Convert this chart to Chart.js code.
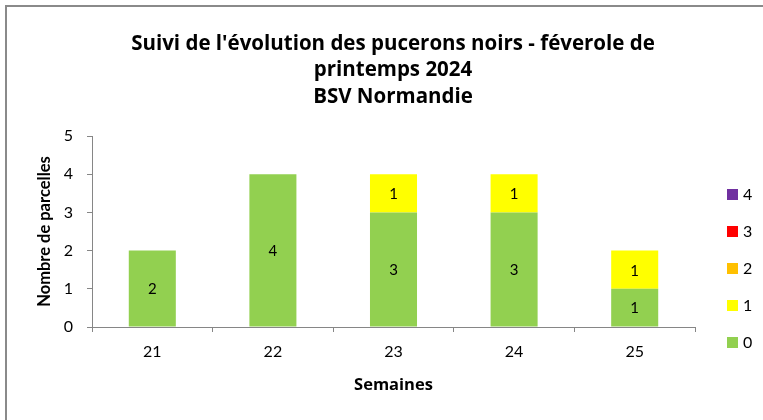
<!DOCTYPE html>
<html>
<head>
<meta charset="utf-8">
<script src="https://cdn.jsdelivr.net/npm/chart.js@4.4.1/dist/chart.umd.min.js"></script>
<style>
  html, body { margin: 0; padding: 0; background: #fff; }
  #wrap { width: 763px; height: 420px; }
</style>
</head>
<body>
<div id="wrap"><canvas id="pucChart" width="763" height="420"></canvas></div>
<script>
// semaines
const weeks = ['21', '22', '23', '24', '25'];

// classes de colonisation (nombre de parcelles par classe)
const classLabels = ['0', '1', '2', '3', '4'];
const class0 = [2, 4, 3, 3, 1];
const class1 = [0, 0, 1, 1, 1];
const class2 = [0, 0, 0, 0, 0];
const class3 = [0, 0, 0, 0, 0];
const class4 = [0, 0, 0, 0, 0];
const classColors = ['#92D050', '#FFFF00', '#FFC000', '#FF0000', '#7030A0'];

const titleLines = ["Suivi de l'évolution des pucerons noirs - féverole de", 'printemps 2024', 'BSV Normandie'];
const yTitle = 'Nombre de parcelles';
const xTitle = 'Semaines';

const FONT = 'Lato, "Noto Sans", sans-serif';
const WIDE = '"Open Sans", Lato, sans-serif';
const axisGrey = '#868686';

const series = [class0, class1, class2, class3, class4];
const datasets = series.map((vals, i) => ({
    label: classLabels[i],
    data: vals,
    backgroundColor: classColors[i],
    borderWidth: 0,
    barPercentage: 0.39,
    categoryPercentage: 1
}));

// cadre gris + fond blanc
const frame = {
    id: 'frame',
    beforeDraw(chart) {
        const ctx = chart.ctx;
        ctx.save();
        ctx.fillStyle = '#fff';
        ctx.fillRect(0, 0, chart.width, chart.height);
        ctx.strokeStyle = '#8a8a8a';
        ctx.lineWidth = 2;
        ctx.strokeRect(6, 6, chart.width + 10, chart.height + 10);
        ctx.restore();
    }
};

// titre sur trois lignes
const topTitle = {
    id: 'topTitle',
    afterDraw(chart) {
        const ctx = chart.ctx;
        ctx.save();
        ctx.font = 'bold 20.5px ' + WIDE;
        ctx.fillStyle = '#000';
        ctx.textAlign = 'center';
        ctx.textBaseline = 'middle';
        titleLines.forEach((t, i) => ctx.fillText(t, 393, 44 + i * 26.5));
        ctx.restore();
    }
};

// valeurs dans les barres
const barLabels = {
    id: 'barLabels',
    afterDatasetsDraw(chart) {
        const ctx = chart.ctx;
        ctx.save();
        ctx.font = '15px ' + FONT;
        ctx.fillStyle = '#000';
        ctx.textAlign = 'center';
        ctx.textBaseline = 'middle';
        chart.data.datasets.forEach((ds, i) => {
            chart.getDatasetMeta(i).data.forEach((bar, j) => {
                const v = ds.data[j];
                if (!v) return;
                const p = bar.getProps(['x', 'y', 'base'], true);
                ctx.fillText(String(v), p.x, (p.y + p.base) / 2 + 1);
            });
        });
        ctx.restore();
    }
};

// légende à droite, ordre inversé
const sideLegend = {
    id: 'sideLegend',
    afterDraw(chart) {
        const ctx = chart.ctx;
        ctx.save();
        ctx.font = '16px ' + FONT;
        ctx.textBaseline = 'middle';
        ctx.textAlign = 'left';
        const n = classLabels.length;
        for (let k = 0; k < n; k++) {
            const i = n - 1 - k;
            const cy = 195 + k * 37;
            ctx.fillStyle = classColors[i];
            ctx.fillRect(727, cy - 6, 11, 11);
            ctx.fillStyle = '#000';
            ctx.fillText(classLabels[i], 743, cy);
        }
        ctx.restore();
    }
};

new Chart(document.getElementById('pucChart').getContext('2d'), {
    type: 'bar',
    data: { labels: weeks, datasets: datasets },
    plugins: [frame, topTitle, barLabels, sideLegend],
    options: {
        responsive: false,
        animation: false,
        layout: { padding: { left: 28, right: 0, top: 136, bottom: 0 } },
        plugins: {
            legend: { display: false },
            tooltip: { enabled: false },
            title: { display: false }
        },
        scales: {
            x: {
                stacked: true,
                grid: { display: true, drawOnChartArea: false, drawTicks: true, tickLength: 5, color: axisGrey, offset: true },
                border: { display: true, color: axisGrey, width: 1 },
                ticks: { color: '#000', font: { family: FONT, size: 16 }, padding: 10 },
                title: { display: true, text: xTitle, color: '#000', font: { family: WIDE, size: 16.5, weight: 'bold' }, padding: { top: 0, bottom: 25 } },
                afterFit(s) { s.height = 93; }
            },
            y: {
                stacked: true,
                min: 0,
                max: 5,
                ticks: { stepSize: 1, color: '#000', font: { family: FONT, size: 16 }, padding: 14 },
                grid: { display: true, drawOnChartArea: false, drawTicks: true, tickLength: 5, color: axisGrey },
                border: { display: true, color: axisGrey, width: 1 },
                title: { display: true, text: yTitle, color: '#000', font: { family: FONT, size: 16.5, weight: 'bold' }, padding: { top: 7, bottom: 0 } },
                afterFit(s) { s.width = 64; }
            },
            yRight: {
                position: 'right',
                display: true,
                grid: { display: false },
                border: { display: false },
                ticks: { display: false },
                afterFit(s) { s.width = 68; }
            }
        }
    }
});
</script>
</body>
</html>
